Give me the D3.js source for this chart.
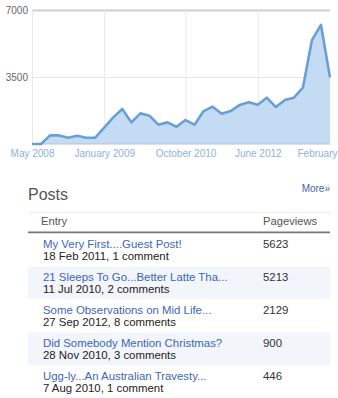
<!DOCTYPE html>
<html>
<head>
<meta charset="utf-8">
<script src="https://cdn.jsdelivr.net/npm/d3@7"></script>
<style>
  body { margin: 0; background: #fff; }
  svg { display: block; font-family: "Liberation Sans", Arial, sans-serif; }
</style>
</head>
<body>
<svg id="chart" width="338" height="398"></svg>
<script>
// pageviews over time (one point per period)
const views = [0, 0, 450, 450, 330, 430, 330, 330, 850, 1390, 1830, 1130, 1600, 1480,
  1010, 1130, 900, 1250, 1010, 1720, 1950, 1580, 1720, 2040, 2180, 2050, 2420, 1930,
  2300, 2420, 2940, 5430, 6220, 3480];
const xLabelIdx = [0, 8, 17, 25, 33];
const xLabels = ["May 2008", "January 2009", "October 2010", "June 2012", "February"];
const yTicks = [3500, 7000];

// top posts table
const postTitles = ["My Very First....Guest Post!", "21 Sleeps To Go...Better Latte Tha...",
  "Some Observations on Mid Life...", "Did Somebody Mention Christmas?", "Ugg-ly...An Australian Travesty..."];
const postMeta = ["18 Feb 2011, 1 comment", "11 Jul 2010, 2 comments", "27 Sep 2012, 8 comments",
  "28 Nov 2010, 3 comments", "7 Aug 2010, 1 comment"];
const postViews = [5623, 5213, 2129, 900, 446];

const svg = d3.select("#chart");

const x = d3.scalePoint().domain(d3.range(views.length)).range([32, 330]);
const y = d3.scaleLinear().domain([0, 7000]).range([144, 10]);

// horizontal grid
svg.append("g")
  .attr("transform", "translate(32,0)")
  .call(d3.axisLeft(y).tickValues(yTicks).tickSize(-298).tickFormat(""))
  .call(g => g.select(".domain").remove())
  .call(g => g.selectAll("line").attr("stroke", d => d === 7000 ? "#cfcfcf" : "#e6e6e6")
    .attr("stroke-width", d => d === 7000 ? 2 : 1));

// vertical grid
svg.append("g")
  .attr("transform", "translate(0,144)")
  .call(d3.axisBottom(x).tickValues(xLabelIdx.slice(0, 4)).tickSize(-134).tickFormat(""))
  .call(g => g.select(".domain").remove())
  .call(g => g.selectAll("line").attr("stroke", "#e8e8e8"));

const area = d3.area().x((d, i) => x(i)).y0(y(0)).y1(d => y(d));
const line = d3.line().x((d, i) => x(i)).y(d => y(d));

svg.append("path").datum(views).attr("d", area).attr("fill", "#c4dcf3");
svg.append("line").attr("x1", 32).attr("x2", 330).attr("y1", y(0)).attr("y2", y(0))
  .attr("stroke", "#b8c4d0");
svg.append("path").datum(views).attr("d", line)
  .attr("fill", "none").attr("stroke", "#6a9fd6").attr("stroke-width", 2.6)
  .attr("stroke-linejoin", "round");

// y labels
svg.append("g")
  .attr("transform", "translate(28,0)")
  .call(d3.axisLeft(y).tickValues(yTicks).tickSize(0).tickPadding(0).tickFormat(d3.format("d")))
  .call(g => g.select(".domain").remove())
  .call(g => g.selectAll("text").attr("fill", "#666").attr("font-size", 10)
    .attr("font-family", "Liberation Sans, Arial, sans-serif"));

// x labels
svg.append("g")
  .attr("transform", "translate(0,150)")
  .call(d3.axisBottom(x).tickValues(xLabelIdx).tickSize(0).tickPadding(0)
    .tickFormat(d => xLabels[xLabelIdx.indexOf(d)]))
  .call(g => g.select(".domain").remove())
  .call(g => g.selectAll("text").attr("fill", "#8db2da").attr("font-size", 10)
    .attr("font-family", "Liberation Sans, Arial, sans-serif"))
  .call(g => g.selectAll("text").filter(d => d === 33)
    .attr("text-anchor", "end").attr("dx", 7));

// ---- Posts table ----
svg.append("text").attr("x", 28).attr("y", 200).text("Posts")
  .attr("font-size", 16).attr("fill", "#555");
svg.append("text").attr("x", 330).attr("y", 192).attr("text-anchor", "end")
  .text("More\u00bb").attr("font-size", 10).attr("fill", "#3d63b5");

svg.append("line").attr("x1", 28).attr("x2", 331).attr("y1", 212.5).attr("y2", 212.5)
  .attr("stroke", "#eeeeee");
svg.append("text").attr("x", 41).attr("y", 225).text("Entry")
  .attr("font-size", 11.2).attr("fill", "#555");
svg.append("text").attr("x", 263).attr("y", 225).text("Pageviews")
  .attr("font-size", 11.2).attr("fill", "#555");
svg.append("line").attr("x1", 28).attr("x2", 330).attr("y1", 232.5).attr("y2", 232.5)
  .attr("stroke", "#777").attr("stroke-width", 2);

const rowY = d3.scaleBand().domain(d3.range(postTitles.length)).range([233.5, 398.5]);

const rows = svg.append("g").selectAll("g").data(postTitles).join("g")
  .attr("transform", (d, i) => `translate(0,${rowY(i)})`);
rows.append("rect").attr("x", 28).attr("width", 302).attr("height", rowY.bandwidth())
  .attr("fill", (d, i) => i % 2 ? "#f2f5fa" : "#fff");
rows.append("text").attr("x", 43).attr("y", 14).text(d => d)
  .attr("font-size", 11.4).attr("fill", "#3c66b8");
rows.append("text").attr("x", 43).attr("y", 26).text((d, i) => postMeta[i])
  .attr("font-size", 11.4).attr("fill", "#222");
rows.append("text").attr("x", 263).attr("y", 14).text((d, i) => postViews[i])
  .attr("font-size", 11.4).attr("fill", "#333");
</script>
</body>
</html>
